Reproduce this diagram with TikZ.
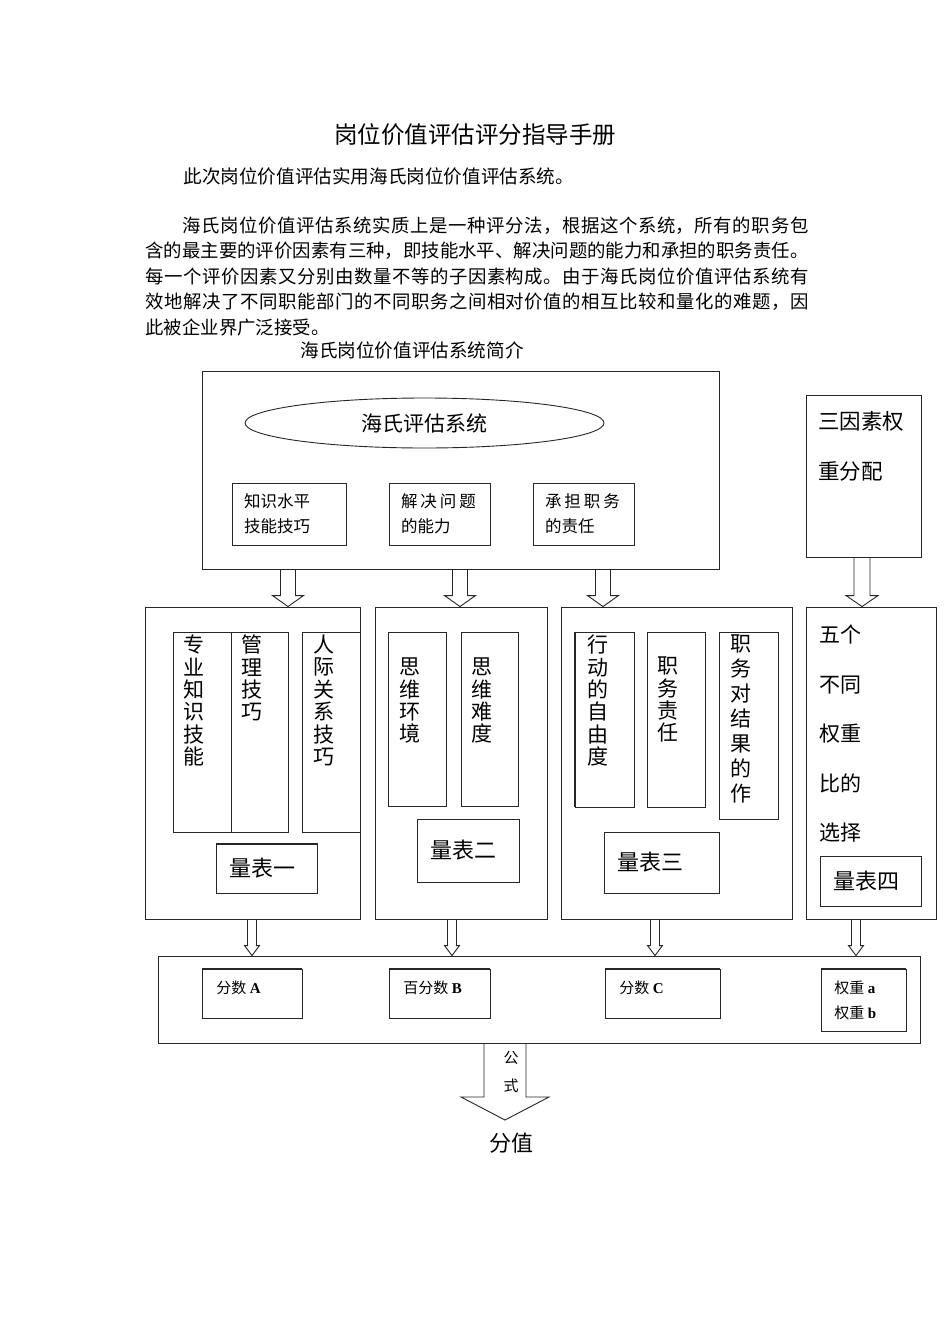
\documentclass[tikz,border=0pt]{standalone}
\usepackage{fontspec}
\setmainfont{Noto Sans CJK SC}
\newfontfamily\serifbf{Liberation Serif}
\usepackage{tikz}
\usetikzlibrary{calc,positioning,shapes.geometric}
\XeTeXlinebreaklocale "zh"
\XeTeXlinebreakskip=0pt plus 1pt
\newcommand{\setfs}[2]{\fontsize{#1}{#2}\selectfont}
% hollow block arrow: from, to, shaft half width, head half width, head length
\newcommand{\fatdown}[5]{%
  \draw[arrowline] ($(#1)+(-#3,0)$) -- ($(#2)+(-#3,-#5)$) -- ($(#2)+(-#4,-#5)$) -- (#2)
    -- ($(#2)+(#4,-#5)$) -- ($(#2)+(#3,-#5)$) -- ($(#1)+(#3,0)$);}

\begin{document}
\begin{tikzpicture}[x=1pt,y=-1pt,line width=0.9pt,
  boxline/.style={draw=black!85,rectangle,inner sep=0pt},
  tbox/.style={boxline,align=left,inner xsep=12pt},
  vtext/.style={inner sep=0pt,anchor=north west,align=left,font=\setfs{21}{22.4}},
  heavy/.style={line width=1.8pt,draw=black!85},
  arrowline/.style={draw=black!85,line width=0.9pt,line join=miter}]
\useasboundingbox (0,0) rectangle (950,1344);

% heading and text
\node[inner sep=0pt,font=\setfs{23.5}{28}] (title) at (475,135) {岗位价值评估评分指导手册};
\node[inner sep=0pt,anchor=west,font=\setfs{18.6}{25}] (intro) at (183,176) {此次岗位价值评估实用海氏岗位价值评估系统。};
\node[inner sep=0pt,anchor=north west,text width=663pt,align=justify,font=\setfs{18.4}{25.5}] (para) at (145,216)
  {\hspace*{2em}海氏岗位价值评估系统实质上是一种评分法，根据这个系统，所有的职务包\linebreak
   含的最主要的评价因素有三种，即技能水平、解决问题的能力和承担的职务责任。\linebreak
   每一个评价因素又分别由数量不等的子因素构成。由于海氏岗位价值评估系统有\linebreak
   效地解决了不同职能部门的不同职务之间相对价值的相互比较和量化的难题，因\linebreak
   此被企业界广泛接受。};
\node[inner sep=0pt,font=\setfs{18.6}{25}] (cap) at (412,350) {海氏岗位价值评估系统简介};

% top system box
\node[boxline,minimum width=517pt,minimum height=198pt] (hay) at (460.5,470) {};
\node[boxline,ellipse,minimum width=359pt,minimum height=50pt,font=\setfs{21}{24}] (sys) at (424.5,423) {海氏评估系统};
\node[tbox,text width=90pt,minimum height=62pt,font=\setfs{16.5}{25}] (f1) at (289,514) {知识水平\\技能技巧};
\node[tbox,text width=77pt,minimum height=62pt,font=\setfs{16.5}{25}] (f2) at (439.5,514) {解\hspace{3pt}决\hspace{3pt}问\hspace{3pt}题\\的能力};
\node[tbox,text width=77pt,minimum height=62pt,font=\setfs{16.5}{25}] (f3) at (583.5,514) {承\hspace{3pt}担\hspace{3pt}职\hspace{3pt}务\\的责任};

\node[boxline,minimum width=115pt,minimum height=162pt] (wt) at (863.5,476) {};
\node[inner sep=0pt,anchor=north west,align=left,font=\setfs{21.5}{50}] (wtt) at (818,411) {三因素权\\重分配};

% middle row
\node[boxline,minimum width=215pt,minimum height=312pt] (k1) at (252.5,763) {};
\node[boxline,minimum width=172pt,minimum height=312pt] (k2) at (461,763) {};
\node[boxline,minimum width=231pt,minimum height=312pt] (k3) at (676.5,763) {};
\node[boxline,minimum width=130pt,minimum height=312pt] (k4) at (871,763) {};

\node[boxline,minimum width=58pt,minimum height=200pt] (c11) at (202,732) {};
\node[boxline,minimum width=57pt,minimum height=200pt] (c12) at (259.5,732) {};
\node[boxline,minimum width=58pt,minimum height=200pt] (c13) at (331,732) {};
\node[vtext] (t11) at ($(c11.north west)+(10,3)$) {专\\业\\知\\识\\技\\能};
\node[vtext] (t12) at ($(c12.north west)+(10,3)$) {管\\理\\技\\巧};
\node[vtext] (t13) at ($(c13.north west)+(11,3)$) {人\\际\\关\\系\\技\\巧};
\node[tbox,inner xsep=13pt,text width=75pt,minimum height=49pt,font=\setfs{22}{26}] (s1) at (266.5,868.5) {量表一};

\node[boxline,minimum width=58pt,minimum height=174pt] (c21) at (417,719) {};
\node[boxline,minimum width=57pt,minimum height=174pt] (c22) at (489.5,719) {};
\node[vtext] (t21) at ($(c21.north west)+(11,26)$) {思\\维\\环\\境};
\node[vtext] (t22) at ($(c22.north west)+(10,26)$) {思\\维\\难\\度};
\node[tbox,inner xsep=13pt,text width=76pt,minimum height=63pt,font=\setfs{22}{26}] (s2) at (468,850.5) {量表二};

\node[boxline,minimum width=59pt,minimum height=175pt] (c31) at (604.5,719.5) {};
\node[boxline,minimum width=58pt,minimum height=175pt] (c32) at (676,719.5) {};
\node[boxline,minimum width=59pt,minimum height=187pt] (c33) at (748.5,725.5) {};
\node[vtext] (t31) at ($(c31.north west)+(12,3)$) {行\\动\\的\\自\\由\\度};
\node[vtext] (t32) at ($(c32.north west)+(10,25)$) {职\\务\\责\\任};
\node[vtext,font=\setfs{21}{25}] (t33) at ($(c33.north west)+(11,3)$) {职\\务\\对\\结\\果\\的\\作};
\node[tbox,inner xsep=13pt,text width=89pt,minimum height=61pt,font=\setfs{22}{26}] (s3) at (661.5,862.5) {量表三};

\node[inner sep=0pt,anchor=north west,align=left,font=\setfs{21}{49.5}] (t41) at (819,624.5) {五个\\不同\\权重\\比的\\选择};
\node[tbox,inner xsep=13pt,text width=75pt,minimum height=50pt,font=\setfs{22}{26}] (s4) at (870.5,881) {量表四};

% bottom row
\node[boxline,minimum width=762pt,minimum height=87pt] (bot) at (539,999.5) {};
\node[boxline,minimum width=100pt,minimum height=49pt] (rA) at (252,993.5) {};
\node[boxline,minimum width=101pt,minimum height=49pt] (rB) at (439.5,993.5) {};
\node[boxline,minimum width=115pt,minimum height=49pt] (rC) at (662.5,993.5) {};
\node[boxline,minimum width=85pt,minimum height=62pt] (rW) at (863.5,1000) {};
\node[inner sep=0pt,anchor=west,font=\setfs{15}{25}] (ta) at (216,988) {分数 {\serifbf\bfseries A}};
\node[inner sep=0pt,anchor=west,font=\setfs{15}{25}] (tb) at (403,988) {百分数 {\serifbf\bfseries B}};
\node[inner sep=0pt,anchor=west,font=\setfs{15}{25}] (tc) at (619,988) {分数 {\serifbf\bfseries C}};
\node[inner sep=0pt,anchor=north west,align=left,font=\setfs{15}{25}] (tw) at (834,980.5) {权重 {\serifbf\bfseries a}\\权重 {\serifbf\bfseries b}};

% heavier edges
\draw[heavy] (wt.north east) -- (wt.south east) -- (wt.south west);
\draw[heavy] (s1.north west) -- (s1.north east) -- (s1.south east);
\draw[heavy] (c12.north east) -- (c12.south east);
\draw[heavy] (c31.north west) -- (c31.south west);
\draw[heavy] (c33.north east) -- (c33.south east) -- (c33.south west);
\draw[heavy] (s4.north east) -- (s4.south east) -- (s4.south west);
\foreach \r in {rA,rB,rC,rW} \draw[heavy] (\r.north west) -- (\r.north east);

% connectors
\coordinate (x1) at (288,0);
\coordinate (x2) at (460,0);
\coordinate (x3) at (603,0);
\coordinate (x4) at (862,0);
\coordinate (y1) at (252,0);
\coordinate (y2) at (452,0);
\coordinate (y3) at (655,0);
\coordinate (y4) at (856,0);
\fatdown{hay.south -| x1}{k1.north -| x1}{7.5}{15.5}{11}
\fatdown{hay.south -| x2}{k2.north -| x2}{7.5}{15.5}{11}
\fatdown{hay.south -| x3}{k3.north -| x3}{7.5}{15.5}{11}
\fatdown{wt.south -| x4}{k4.north -| x4}{8}{16}{11}
\fatdown{k1.south -| y1}{bot.north -| y1}{4.5}{7.5}{10}
\fatdown{k2.south -| y2}{bot.north -| y2}{4.5}{7.5}{10}
\fatdown{k3.south -| y3}{bot.north -| y3}{4.5}{7.5}{10}
\fatdown{k4.south -| y4}{bot.north -| y4}{4.5}{7.5}{10}
\coordinate (x9) at (505,0);
\coordinate (tip) at (505,1120);
\fatdown{bot.south -| x9}{tip}{21}{44}{23}
\node[inner sep=0pt,align=center,font=\setfs{15}{28}] (gs) at (511,1072) {公\\式};
\node[inner sep=0pt,font=\setfs{22}{26}] (fz) at (511,1143) {分值};
\end{tikzpicture}
\end{document}
